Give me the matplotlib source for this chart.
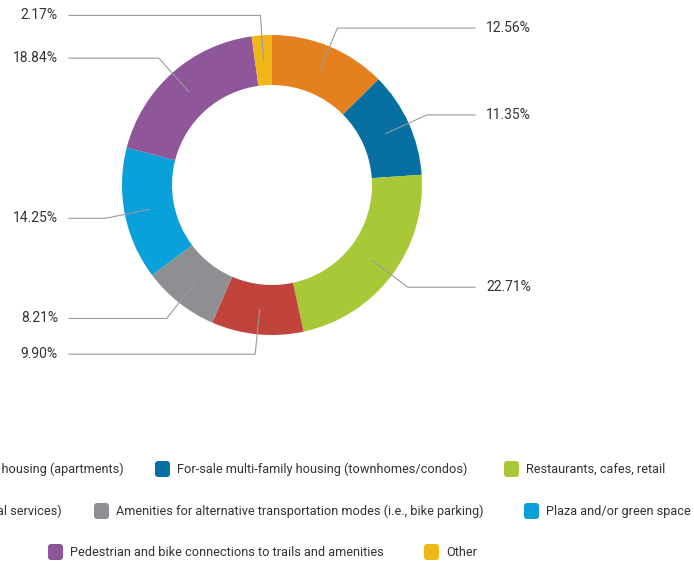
import matplotlib.pyplot as plt
import numpy as np
from matplotlib.patches import FancyBboxPatch

categories = [
    "For-rent multi-family housing (apartments)",
    "For-sale multi-family housing (townhomes/condos)",
    "Restaurants, cafes, retail",
    "Office space (professional services)",
    "Amenities for alternative transportation modes (i.e., bike parking)",
    "Plaza and/or green space",
    "Pedestrian and bike connections to trails and amenities",
    "Other",
]
shares = [12.56, 11.35, 22.71, 9.90, 8.21, 14.25, 18.84, 2.17]
pct_labels = ["12.56%", "11.35%", "22.71%", "9.90%", "8.21%", "14.25%", "18.84%", "2.17%"]
colors = ["#E5801F", "#086FA3", "#A9C838", "#C1443C", "#8E8F92", "#0AA0DA", "#8F579A", "#F0B619"]

FONT = ["Liberation Sans Narrow", "Roboto", "DejaVu Sans"]
TXT = "#333333"

fig = plt.figure(figsize=(6.94, 5.65), dpi=100)
ax = fig.add_axes([0, 0, 1, 1])

# donut, pixel-like coords (y up)
cx, cy = 272, 380
R, W = 150, 50
wedges, _ = ax.pie(shares, colors=colors, startangle=90, counterclock=False,
                   radius=R, center=(cx, cy),
                   wedgeprops=dict(width=W, linewidth=0))

# leader lines + percent labels
for w, lab in zip(wedges, pct_labels):
    ang = np.deg2rad((w.theta1 + w.theta2) / 2)
    c, s = np.cos(ang), np.sin(ang)
    side = 1 if c >= 0 else -1
    x0, y0 = cx + 125 * c, cy + 125 * s
    x1, y1 = cx + 170 * c, cy + 170 * s
    x2 = cx + side * 203
    ax.plot([x0, x1, x2], [y0, y1, y1], color="#9a9a9a", lw=0.8, zorder=3)
    ax.text(cx + side * 214, y1, lab, ha="left" if side > 0 else "right",
            va="center", fontsize=10, color=TXT, family=FONT)

# legend, three centred rows, first items run off the left edge
rows = [[0, 1, 2], [3, 4, 5], [6, 7]]
row_y = [96, 54, 13]
swatch_x = [[None, 155, 504], [None, 94, 524], [48, 424]]
cut_end = {0: 124, 3: 62}
for items, yy, xs in zip(rows, row_y, swatch_x):
    for i, sx in zip(items, xs):
        if sx is None:
            ax.text(cut_end[i], yy, categories[i], ha="right", va="center",
                    fontsize=9.2, color=TXT, family=FONT)
            continue
        ax.add_patch(FancyBboxPatch((sx, yy - 8), 15, 16,
                                    boxstyle="round,pad=0,rounding_size=3",
                                    fc=colors[i], ec="none"))
        ax.text(sx + 22, yy, categories[i], ha="left", va="center",
                fontsize=9.2, color=TXT, family=FONT)

ax.set_xlim(0, 694)
ax.set_ylim(0, 565)
ax.set_aspect("equal")
ax.axis("off")

fig.savefig("out.png", dpi=100, facecolor="white")
